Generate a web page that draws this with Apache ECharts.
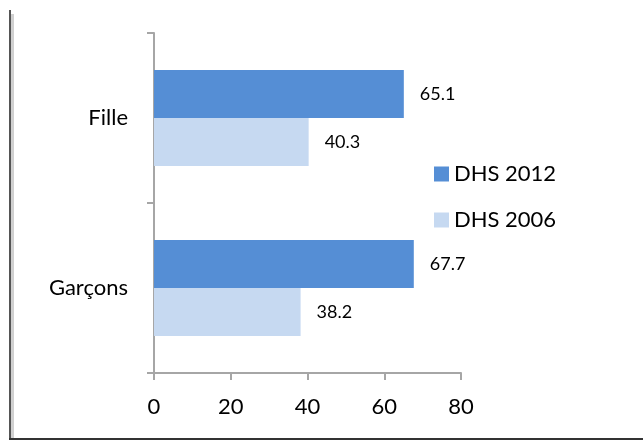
<!DOCTYPE html>
<html>
<head>
<meta charset="utf-8">
<script src="https://cdn.jsdelivr.net/npm/echarts@6/dist/echarts.min.js"></script>
<style>
  html, body { margin: 0; padding: 0; background: #fff; }
  #chart { width: 643px; height: 441px; }
</style>
</head>
<body>
<div id="chart"></div>
<script>
const categories = ['Fille', 'Garçons']
const dhs2012 = [65.1, 67.7]
const dhs2006 = [40.3, 38.2]
const xTicks = [0, 80, 20] // min, max, interval

const FONT = 'Lato, "Open Sans", sans-serif'
const AXIS_GRAY = '#a6a6a6'

const chart = echarts.init(document.getElementById('chart'))

chart.setOption({
  animation: false,
  textStyle: { fontFamily: FONT },
  grid: { left: 154, top: 33, right: 182, bottom: 68, containLabel: false },
  legend: {
    orient: 'vertical',
    left: 429,
    top: 158,
    itemWidth: 15,
    itemHeight: 15,
    itemGap: 24,
    icon: 'rect',
    textStyle: { fontSize: 22, color: '#000', fontFamily: FONT, padding: [0, 0, 0, 0] },
    data: ['DHS 2012', 'DHS 2006'],
  },
  xAxis: {
    type: 'value',
    min: xTicks[0],
    max: xTicks[1],
    interval: xTicks[2],
    splitLine: { show: false },
    axisLine: { show: true, lineStyle: { color: AXIS_GRAY, width: 2 } },
    axisTick: { show: true, length: 7, lineStyle: { color: AXIS_GRAY, width: 2 } },
    axisLabel: { color: '#000', fontSize: 22, margin: 23, fontFamily: FONT },
  },
  yAxis: {
    type: 'category',
    inverse: true,
    data: categories,
    axisLine: { show: true, lineStyle: { color: AXIS_GRAY, width: 2 } },
    axisTick: { show: true, length: 7, lineStyle: { color: AXIS_GRAY, width: 2 } },
    axisLabel: { color: '#000', fontSize: 22, margin: 26, fontFamily: FONT },
  },
  series: [
    {
      name: 'DHS 2012',
      type: 'bar',
      data: dhs2012,
      barWidth: 48,
      barGap: '0%',
      itemStyle: { color: '#558ed5' },
      label: { show: true, position: 'right', distance: 16, color: '#000', fontSize: 18, fontFamily: FONT },
    },
    {
      name: 'DHS 2006',
      type: 'bar',
      data: dhs2006,
      barWidth: 48,
      barGap: '0%',
      itemStyle: { color: '#c6d9f1' },
      label: { show: true, position: 'right', distance: 16, color: '#000', fontSize: 18, fontFamily: FONT },
    },
  ],
  graphic: [
    // frame shadow on left and bottom edge
    { type: 'rect', shape: { x: 11, y: 14, width: 3, height: 425 }, style: { fill: '#d0d0d0' } },
    { type: 'rect', shape: { x: 9, y: 10, width: 2, height: 430 }, style: { fill: '#555' } },
    { type: 'rect', shape: { x: 9, y: 438, width: 634, height: 2 }, style: { fill: '#333' } },
  ],
})
</script>
</body>
</html>
